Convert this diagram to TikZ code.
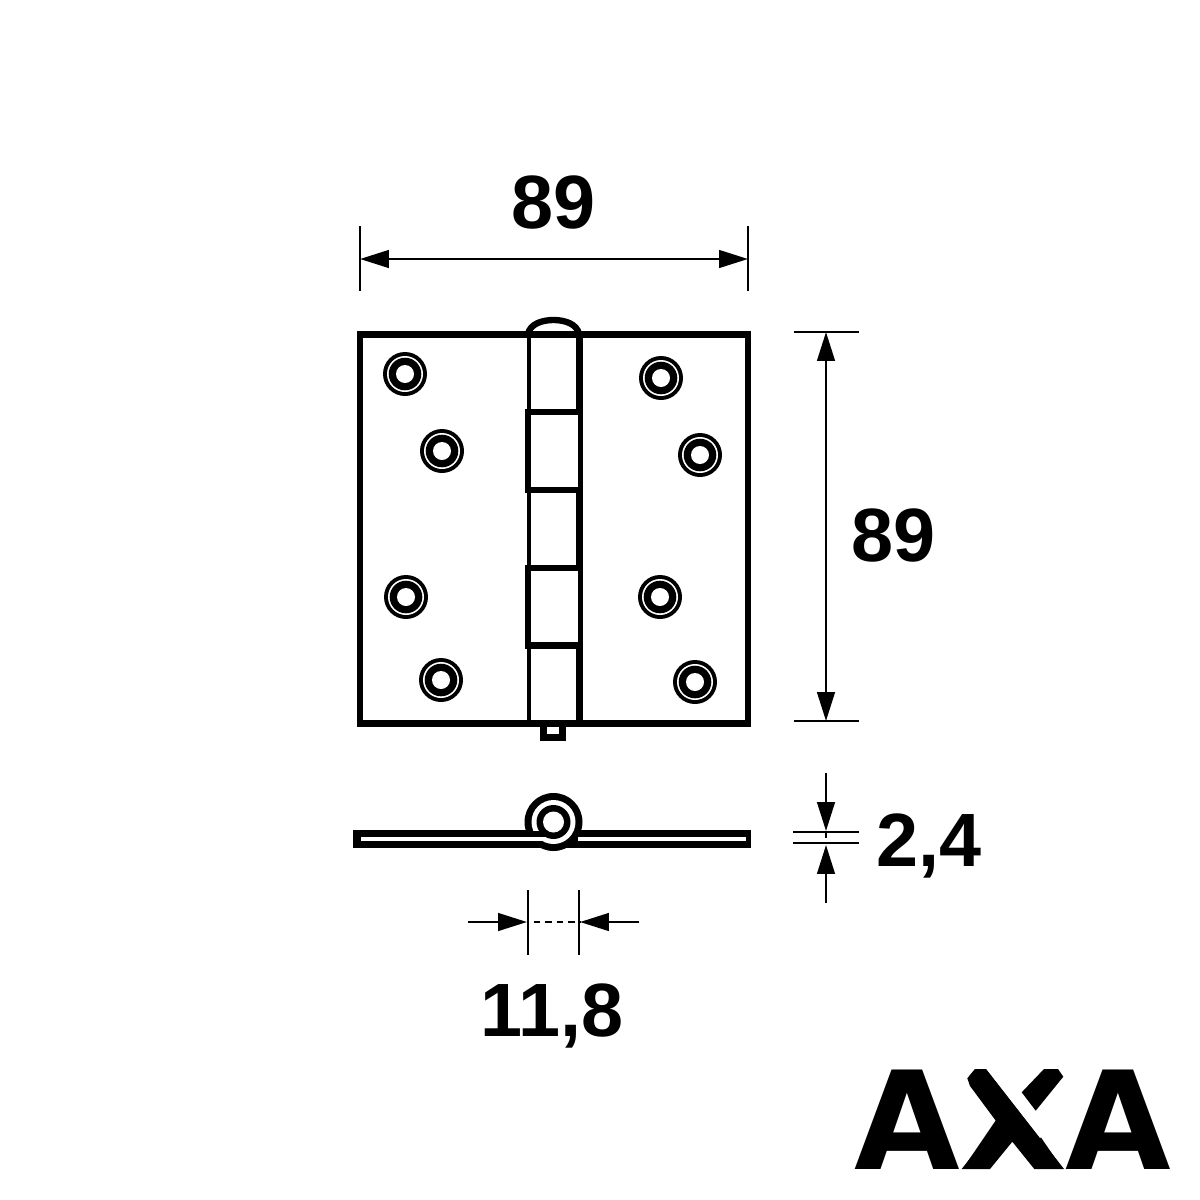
\documentclass[tikz,border=0pt]{standalone}
\usepackage{fontspec}
\setmainfont{Liberation Sans}
\newfontfamily\logofont{DejaVu Sans}
\usetikzlibrary{arrows.meta}

\begin{document}
\begin{tikzpicture}[x=0.02cm, y=-0.02cm,
    linea/.style={line width=1.4pt, black},
    placa/.style={line width=3.8pt, black},
    fino/.style={line width=2.4pt, black},
    grueso/.style={line width=3.6pt, black},
    cota/.style={linea, -{Triangle[length=16.4pt, width=10pt]}},
    medida/.style={font=\fontsize{43}{43}\selectfont\bfseries, inner sep=0pt, anchor=base},
    ]
    \useasboundingbox[fill=white] (0,0) rectangle (1200,1200);

    \draw[placa] (360,334.5) rectangle (748,723.5);
    \draw[grueso] (528,334) .. controls (530,324) and (542,320) .. (553.5,320)
        .. controls (565,320) and (577,324) .. (579,334);
    \foreach \ya/\yb in {335/412, 490/568, 645.5/723}{
        \draw[fino] (529,\ya) -- (529,\yb);
        \draw[grueso] (579.5,\ya) -- (579.5,\yb);
    }
    \foreach \ya/\yb in {412/490, 568/645.5}{
        \draw[grueso] (528,\ya) -- (528,\yb);
        \draw[fino] (580.5,\ya) -- (580.5,\yb);
    }
    \foreach \y in {412, 490, 568, 645.5}{
        \draw[grueso] (525,\y) -- (583,\y);
    }
    \draw[grueso] (543.5,726) -- (543.5,737.5) -- (562.5,737.5) -- (562.5,726);

    \foreach \x/\y in {405/374, 442/451, 406/597, 441/680, 661/378, 700/455, 660/597, 695/682}{
        \fill[black] (\x,\y) circle (22);
        \fill[white] (\x,\y) circle (18);
        \fill[black] (\x,\y) circle (16.3);
        \fill[white] (\x,\y) circle (9);
    }

    \fill[black] (353,830) rectangle (751,848);
    \fill[black] (553.5,822) circle (29);
    \fill[white] (553.5,822) circle (22);
    \fill[black] (525,831) rectangle (546,837);
    \fill[white] (361,837) rectangle (545,841);
    \fill[white] (578,837) rectangle (746,841);
    \fill[black] (553.5,822) circle (17);
    \fill[white] (553.5,822) circle (10.5);

    \coordinate (anchoA) at (360,259);
    \coordinate (anchoB) at (748,259);
    \draw[linea] (360,226) -- (360,291);
    \draw[linea] (748,226) -- (748,291);
    \draw[cota] (554,259) -- (anchoA);
    \draw[cota] (554,259) -- (anchoB);
    \node[medida] (ancho) at (554,228) {89};

    \coordinate (altoA) at (826,332);
    \coordinate (altoB) at (826,721);
    \draw[linea] (794,332) -- (859,332);
    \draw[linea] (794,721) -- (859,721);
    \draw[cota] (826,526) -- (altoA);
    \draw[cota] (826,526) -- (altoB);
    \node[medida] (alto) at (894,561) {89};

    \coordinate (gruesoA) at (826,831);
    \coordinate (gruesoB) at (826,845);
    \draw[linea] (793,832) -- (859,832);
    \draw[linea] (793,843) -- (859,843);
    \draw[cota] (826,773) -- (gruesoA);
    \draw[cota] (826,903) -- (gruesoB);
    \draw[linea] (826,832) -- (826,838);
    \node[medida] (grosor) at (929,866) {2,4};

    \coordinate (pernoA) at (527,922);
    \coordinate (pernoB) at (580,922);
    \draw[linea] (528,890) -- (528,955);
    \draw[linea] (579,890) -- (579,955);
    \draw[cota] (468,922) -- (pernoA);
    \draw[cota] (639,922) -- (pernoB);
    \draw[linea, dash pattern=on 3.8pt off 2.8pt, dash phase=2.9pt] (pernoA) -- (pernoB);
    \node[medida] (perno) at (552,1036) {11,8};

    \node[inner sep=0pt, anchor=base, text depth=0pt, font=\fontsize{77.7}{78}\logofont\bfseries] (logo) at (1013,1169) {AXA};
    \fill[white] (955,1060) -- (979,1060) -- (1040,1138.4) -- (1075,1090) -- (1075,1060) -- (979,1060)
        -- (975,1069) -- (967.3,1078.3) -- (970,1086) -- (955,1086) -- cycle;
    \fill[black] (967.3,1078.3) -- (975,1069) -- (986,1069) -- (1064,1169) -- (1034.3,1169) -- (1012.3,1141.7)
        -- (990,1169) -- (961.7,1169) -- (997.7,1123.3) -- (970,1086) -- cycle;
    \fill[black] (1021.7,1092.3) -- (1044,1069) -- (1058,1069) -- (1063.3,1076.7) -- (1035.7,1110.7) -- cycle;
\end{tikzpicture}
\end{document}
